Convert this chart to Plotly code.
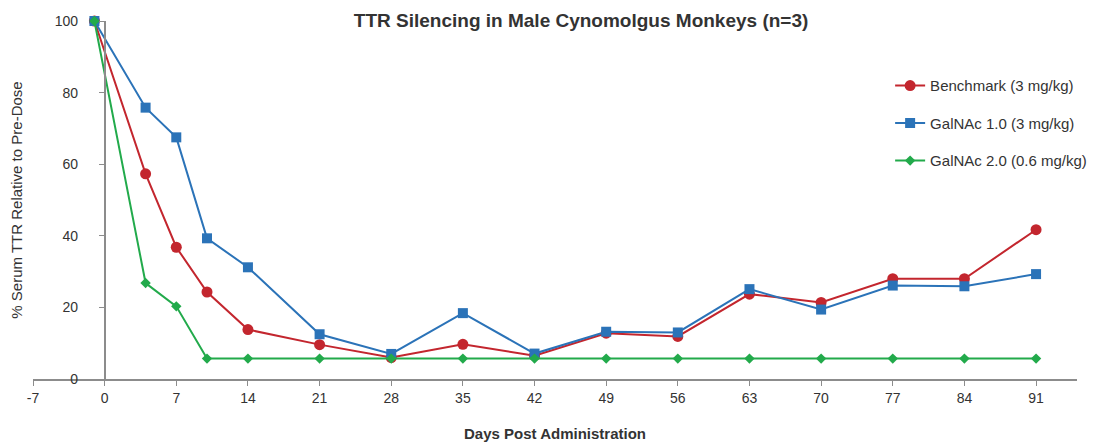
import plotly.graph_objects as go

days = [-1, 4, 7, 10, 14, 21, 28, 35, 42, 49, 56, 63, 70, 77, 84, 91]
benchmark = [100, 57.3, 36.8, 24.3, 13.8, 9.6, 6.0, 9.7, 6.5, 12.8, 11.9, 23.7, 21.4, 28.0, 28.0, 41.7]
galnac1 = [100, 75.8, 67.5, 39.3, 31.2, 12.5, 7.0, 18.4, 7.1, 13.2, 13.0, 25.1, 19.4, 26.1, 25.9, 29.3]
galnac2 = [100, 26.8, 20.3, 5.7, 5.7, 5.7, 5.7, 5.7, 5.7, 5.7, 5.7, 5.7, 5.7, 5.7, 5.7, 5.7]
names = ["Benchmark (3 mg/kg)", "GalNAc 1.0 (3 mg/kg)", "GalNAc 2.0 (0.6 mg/kg)"]
colors = ["#c3262e", "#2b73b8", "#22aa4b"]
x_ticks = [-7, 0, 7, 14, 21, 28, 35, 42, 49, 56, 63, 70, 77, 84, 91]
y_ticks = [0, 20, 40, 60, 80, 100]

FONT = "Liberation Sans, Arial, Helvetica, sans-serif"
TXT = "#333333"

fig = go.Figure()
series = [benchmark, galnac1, galnac2]
symbols = ["circle", "square", "diamond"]
sizes = [11, 10, 8]
for i, (vals, name, col, sym, sz) in enumerate(zip(series, names, colors, symbols, sizes)):
    fig.add_trace(go.Scatter(
        x=days, y=vals, name=name, mode="lines+markers",
        line=dict(color=col, width=2),
        marker=dict(symbol=sym, size=sz, color=col),
        legendgroup=f"g{i}", cliponaxis=False,
    ))

x0 = -7
x1 = 95
ypos = (0 - x0) / (x1 - x0)

fig.update_layout(
    width=1096, height=445,
    margin=dict(l=25, r=27, t=13, b=74),
    paper_bgcolor="white", plot_bgcolor="white",
    font=dict(family=FONT, size=14, color=TXT),
    title=dict(text="<b>TTR Silencing in Male Cynomolgus Monkeys (n=3)</b>",
               x=0.525, xanchor="center", xref="paper", y=0.973, yanchor="middle",
               font=dict(size=19, color=TXT, family=FONT)),
    showlegend=True,
    legend=dict(x=0.821, y=0.865, xanchor="left", yanchor="top",
                traceorder="grouped", tracegroupgap=15,
                font=dict(size=15, color=TXT, family=FONT),
                bgcolor="rgba(0,0,0,0)"),
    xaxis=dict(range=[x0, x1], tickvals=x_ticks, ticktext=[str(t) for t in x_ticks],
               showgrid=False, zeroline=False, showline=True, linecolor="#8c8c8c", linewidth=1.5,
               ticks="outside", ticklen=5, tickcolor="#8c8c8c", automargin=False,
               tickfont=dict(size=14, color=TXT),
               title=dict(text="<b>Days Post Administration</b>", standoff=24,
                          font=dict(size=15, color=TXT))),
    yaxis=dict(range=[0, 100], tickvals=y_ticks, showgrid=False, zeroline=False,
               showline=True, linecolor="#8c8c8c", linewidth=1.5,
               ticks="outside", ticklen=5, tickcolor="#8c8c8c",
               anchor="free", position=ypos, automargin=False,
               ticklabelstandoff=18,
               tickfont=dict(size=14, color=TXT),
               title=dict(text="% Serum TTR Relative to Pre-Dose", standoff=44,
                          font=dict(size=15, color=TXT))),
)

fig.write_html("out.html")
